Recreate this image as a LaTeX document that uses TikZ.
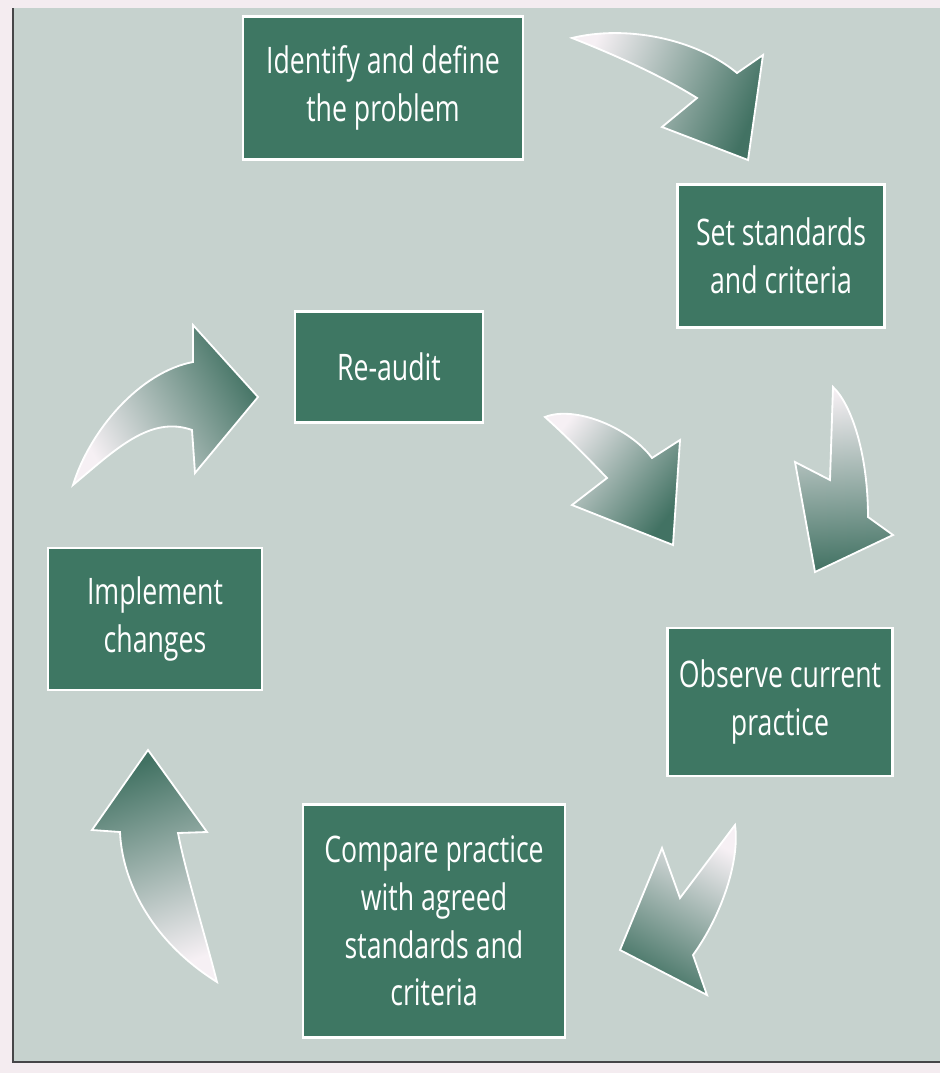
\documentclass[tikz,border=0pt]{standalone}
\usepackage{fontspec}
\newfontfamily\boxfamily{Open Sans}[FakeStretch=0.73]
\usepackage{xcolor}
\definecolor{pagecolor}{RGB}{244,236,240}
\definecolor{panelcolor}{RGB}{198,210,206}
\definecolor{panelline}{RGB}{70,70,72}
\definecolor{boxgreen}{RGB}{62,119,99}
\definecolor{arrowgreen}{RGB}{66,114,99}
\definecolor{arrowlight}{RGB}{246,240,244}
\usepackage{tikz}

\tikzset{
  stagebox/.style={draw=white, line width=1.8pt, fill=boxgreen, text=white,
    align=center, inner sep=0pt, font=\boxfamily\fontsize{26}{34}\selectfont},
  cyclearrow/.style={draw=white, line width=1.3pt, line join=miter,
    bottom color=arrowlight, top color=arrowgreen}
}

\begin{document}
\begin{tikzpicture}[x=0.025cm, y=-0.025cm]
  \useasboundingbox (0,0) rectangle (940,1073);
  \fill[pagecolor] (0,0) rectangle (940,1073);
  \fill[panelcolor] (13,8) rectangle (940,1062);
  \draw[panelline, line width=0.8pt] (13,8) -- (13,1062) -- (940,1062);

  \node[stagebox, minimum width=7cm, minimum height=3.58cm] (identify) at (383,88) {Identify and define\\the problem};
  \node[stagebox, minimum width=5.18cm, minimum height=3.58cm] (standards) at (781,256) {Set standards\\and criteria};
  \node[stagebox, minimum width=4.7cm, minimum height=2.78cm] (reaudit) at (389,367) {Re-audit};
  \node[stagebox, minimum width=5.35cm, minimum height=3.55cm] (implement) at (155,619) {Implement\\changes};
  \node[stagebox, minimum width=5.62cm, minimum height=3.7cm] (observe) at (780,702) {Observe current\\practice};
  \node[stagebox, minimum width=6.55cm, minimum height=5.83cm] (compare) at (434,921) {Compare practice\\with agreed\\standards and\\criteria};

  \path[cyclearrow, shading angle=-113] (572,38) .. controls (625,25) and (695,38) .. (737,73) -- (763,55) -- (748,160) -- (662,127) -- (697,98) .. controls (660,75) and (615,55) .. (572,38) -- cycle;
  \path[cyclearrow, shading angle=-177] (833,387) .. controls (852,405) and (868,455) .. (868,517) -- (893,535) -- (815,572) -- (795,462) -- (830,480) -- cycle;
  \path[cyclearrow, shading angle=-209] (735,825) .. controls (740,860) and (722,915) .. (693,955) -- (707,995) -- (620,950) -- (662,848) -- (680,898) -- cycle;
  \path[cyclearrow, shading angle=20] (217,982) .. controls (205,935) and (185,870) .. (178,833) -- (207,832) -- (148,750) -- (92,830) -- (120,832) .. controls (122,880) and (150,940) .. (217,982) -- cycle;
  \path[cyclearrow, shading angle=-60] (73,485) .. controls (90,430) and (140,372) .. (193,362) -- (193,325) -- (258,397) -- (195,473) -- (192,430) .. controls (150,415) and (115,450) .. (73,485) -- cycle;
  \path[cyclearrow, shading angle=-128] (545,417) .. controls (575,405) and (630,428) .. (652,458) -- (680,440) -- (673,545) -- (572,505) -- (607,478) .. controls (585,455) and (565,435) .. (545,417) -- cycle;
\end{tikzpicture}
\end{document}
